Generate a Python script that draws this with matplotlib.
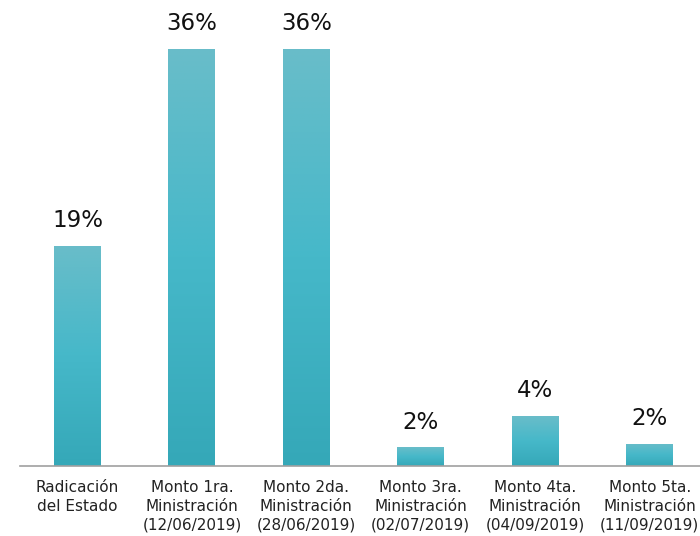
import numpy as np
import matplotlib.pyplot as plt
from matplotlib.colors import LinearSegmentedColormap

categories = [
    "Radicación\ndel Estado",
    "Monto 1ra.\nMinistración\n(12/06/2019)",
    "Monto 2da.\nMinistración\n(28/06/2019)",
    "Monto 3ra.\nMinistración\n(02/07/2019)",
    "Monto 4ta.\nMinistración\n(04/09/2019)",
    "Monto 5ta.\nMinistración\n(11/09/2019)",
]
values = [19.0, 36.0, 36.0, 1.6, 4.3, 1.9]

plt.rcParams['font.family'] = ['DejaVu Sans']

fig = plt.figure(figsize=(7, 5.36), dpi=100)
ax = fig.add_axes([20 / 700, 70 / 536, 680 / 700, 466 / 536])

# light at the top of each bar, darker teal at the base
grad = LinearSegmentedColormap.from_list("teal", ["#35a8b8", "#46b8c9", "#69bdc9"])
img = np.linspace(0, 1, 256).reshape(-1, 1)

x = np.arange(len(values))
bars = ax.bar(x, values, width=0.41, color="none", edgecolor="none")
for b, v in zip(bars, values):
    x0 = b.get_x()
    im = ax.imshow(img, cmap=grad, origin="lower", aspect="auto",
                   extent=[x0, x0 + b.get_width(), 0, v], zorder=2)
    im.set_clip_path(b)
    ax.text(b.get_x() + b.get_width() / 2, v + 1.2, f"{v:.0f}%",
            ha="center", va="bottom", fontsize=16.5, color="#111111")

ax.set_xlim(-0.502, 5.44)
ax.set_ylim(0, 40.23)
ax.set_xticks(x)
ax.set_xticklabels(categories, fontsize=11, color="#222222", linespacing=1.33)
ax.tick_params(axis="x", length=0, pad=10)
ax.set_yticks([])
for s in ["top", "right", "left"]:
    ax.spines[s].set_visible(False)
ax.spines["bottom"].set_color("#a0a0a0")
ax.spines["bottom"].set_linewidth(1.2)

fig.savefig("out.png", dpi=100)
